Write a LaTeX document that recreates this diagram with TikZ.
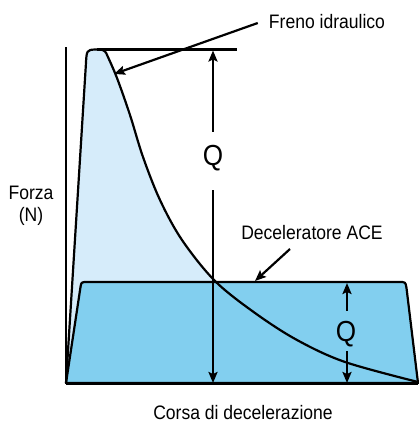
\documentclass[tikz,border=0pt]{standalone}
\usepackage{fontspec}
\setmainfont{Liberation Sans}[FakeStretch=0.9]
\usetikzlibrary{arrows.meta}
\definecolor{lightfill}{RGB}{214,236,250}
\definecolor{acefill}{RGB}{130,207,239}
\begin{document}
\begin{tikzpicture}[x=1pt,y=-1pt, line join=round,
  outline/.style={line width=2.2pt},
  axis/.style={line width=3pt},
  arr/.style={line width=2.2pt,-{Stealth[length=11pt,width=9pt,inset=2pt]}},
  lbl/.style={font=\fontsize{19.5}{22}\selectfont, inner sep=0pt, align=center},
  qlbl/.style={font=\fontsize{29}{31}\selectfont, inner sep=0pt}]
\useasboundingbox (0,0) rectangle (418,425);
\def\hydpath{(66,383) -- (85.8,66) .. controls (86.6,50) .. (95,49.5) -- (99,49.5) .. controls (104.5,49.5) and (106,52) .. (107.5,56)
  -- plot[smooth, tension=0.55] coordinates {(107.5,56) (117,78) (130,115) (143,157) (160,200) (182,240) (215,281) (255,313) (297,340) (345,362) (418,382)}}
% hydraulic brake area
\fill[lightfill] \hydpath -- cycle;
% ACE area
\filldraw[fill=acefill, outline] (66,383) -- (80.5,287) .. controls (81.3,282) .. (88,282) -- (399,282) .. controls (405.5,282) .. (406.5,288) -- (418,383) -- cycle;
% hydraulic outline
\draw[outline] \hydpath;
% axes
\coordinate (origin) at (66,383);
\coordinate (ytop) at (66,47);
\coordinate (xend) at (418,383);
\draw[line width=2.5pt] (origin) -- (ytop);
\draw[axis] (origin) -- (xend);
% top reference line
\coordinate (topL) at (97,49.5);
\coordinate (topR) at (237,49.5);
\draw[outline] (topL) -- (topR);
% labels
\node[lbl] (freno) at (327,22) {Freno idraulico};
\node[lbl] (forza) at (31,206) {Forza\\(N)};
\node[lbl] (ace) at (312,233) {Deceleratore ACE};
\node[lbl] (corsa) at (243,413) {Corsa di decelerazione};
% Q arrows
\node[qlbl] (q1) at (213,158) {Q};
\coordinate (q1top) at (213,50.5);
\coordinate (q1bot) at (213,383);
\draw[arr] ([yshift=13pt]q1.north) -- (q1top);
\draw[arr] ([yshift=-19pt]q1.south) -- (q1bot);
\node[qlbl] (q2) at (346,334) {Q};
\coordinate (q2top) at (347,283);
\coordinate (q2bot) at (347,383);
\draw[arr] ([yshift=10pt]q2.north -| q2top) -- (q2top);
\draw[arr] ([yshift=-4pt]q2.south -| q2bot) -- (q2bot);
% annotation arrows
\coordinate (frenoTip) at (114,74);
\draw[arr] ([xshift=-11pt,yshift=-1pt]freno.west) -- (frenoTip);
\coordinate (aceFrom) at (290,249);
\coordinate (aceTip) at (255,281);
\draw[arr] (aceFrom) -- (aceTip);
\end{tikzpicture}
\end{document}
